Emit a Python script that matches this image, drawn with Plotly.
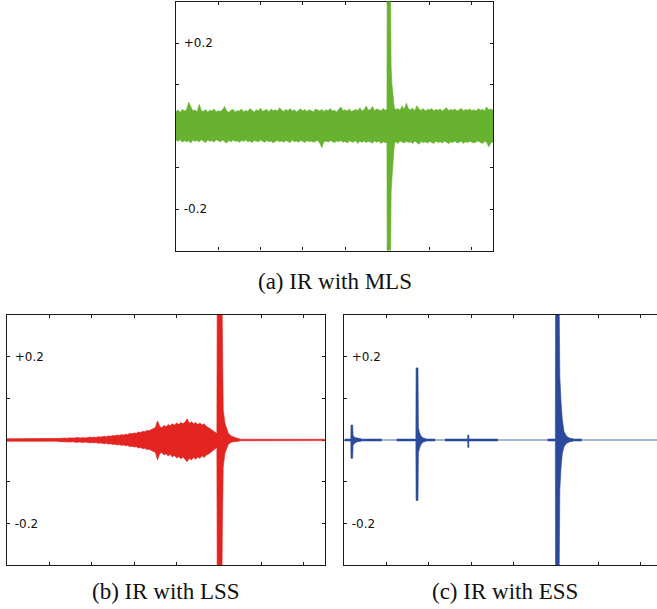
import numpy as np
import plotly.graph_objects as go

# ---------------------------------------------------------------------------
# Impulse responses measured with three excitation signals.
# Each waveform is stored as its upper / lower envelope (in units of 1e-3)
# sampled every 0.05 time units, plus the direct-sound spike and its decay.
# ---------------------------------------------------------------------------
STEP = 0.05
grid = np.round(np.arange(0, 7.5 + STEP / 2, STEP), 3)

# (a) MLS: stationary noise floor plus the direct impulse
mls_upper = [35, 38, 33, 40, 36, 39, 57, 46, 36, 39,
             34, 52, 37, 35, 40, 33, 38, 36, 41, 34,
             37, 35, 39, 47, 36, 33, 38, 40, 34, 37,
             36, 41, 34, 38, 35, 42, 37, 33, 39, 36,
             43, 35, 38, 40, 34, 41, 37, 39, 36, 44,
             38, 35, 40, 37, 42, 36, 39, 34, 38, 41,
             36, 40, 35, 39, 37, 34, 41, 38, 36, 40,
             35, 39, 37, 42, 36, 38, 34, 40, 46, 37,
             39, 36, 41, 35, 38, 40, 37, 44, 36, 39,
             48, 38, 40, 47, 37, 41, 39, 36, 42, 38,
             40, 37, 41, 44, 39, 42, 38, 48, 40, 55,
             41, 39, 43, 37, 49, 40, 38, 42, 36, 40,
             39, 42, 37, 40, 38, 41, 36, 39, 44, 37,
             40, 38, 41, 36, 39, 42, 37, 40, 38, 41,
             37, 39, 36, 42, 38, 40, 37, 46, 39, 41,
             38]
mls_lower = [-34, -37, -33, -39, -35, -38, -36, -41, -34, -37,
             -35, -38, -33, -36, -40, -34, -37, -35, -39, -33,
             -36, -38, -34, -37, -41, -35, -38, -34, -37, -36,
             -39, -35, -37, -34, -38, -36, -40, -35, -37, -38,
             -34, -37, -39, -35, -38, -36, -41, -37, -35, -38,
             -36, -39, -35, -37, -40, -34, -38, -36, -39, -35,
             -37, -40, -35, -38, -36, -39, -37, -35, -41, -52,
             -38, -36, -39, -35, -37, -40, -36, -38, -35, -39,
             -37, -41, -36, -38, -39, -35, -42, -37, -39, -36,
             -40, -37, -38, -41, -36, -39, -37, -42, -38, -40,
             -39, -43, -37, -40, -38, -42, -36, -39, -41, -37,
             -40, -38, -42, -36, -39, -44, -37, -40, -38, -41,
             -37, -39, -42, -36, -40, -38, -41, -37, -39, -43,
             -38, -40, -36, -41, -39, -37, -42, -38, -40, -37,
             -39, -41, -38, -36, -40, -42, -37, -39, -50, -41,
             -38]
mls_spike_t = [4.99, 5.00, 5.065, 5.075, 5.09, 5.11, 5.125, 5.14, 5.16, 5.18]
mls_spike_hi = [0.038, 0.45, 0.45, 0.230, 0.140, 0.100, 0.085, 0.060, 0.048, 0.040]
mls_spike_lo = [-0.038, -0.45, -0.45, -0.220, -0.160, -0.124, -0.095, -0.075, -0.052, -0.040]

# (b) LSS: pre-echo distortion building up before the impulse
lss_upper = [3, 3, 3, 3, 3, 3, 3, 3, 3, 3,
             3, 3, 3, 3, 3, 3, 3, 3, 3, 3,
             3, 3, 3, 3, 3, 4, 4, 5, 4, 5,
             5, 4, 5, 6, 5, 5, 6, 5, 6, 7,
             6, 7, 6, 8, 7, 8, 9, 8, 10, 9,
             11, 10, 12, 11, 13, 12, 14, 13, 16, 15,
             17, 16, 19, 18, 21, 20, 23, 22, 25, 27,
             30, 46, 33, 29, 35, 32, 37, 34, 39, 36,
             41, 37, 42, 39, 43, 51, 40, 44, 39, 42,
             37, 41, 36, 39, 33, 30, 26, 23, 18, 14,
             12, 2, 2, 2, 2, 2, 2, 2, 2, 1.5,
             1.5, 1.5, 1.5, 1.5, 1.5, 1.5, 1.5, 1.5, 1.5, 1.5,
             1.5, 1.5, 1.5, 1.5, 1.5, 1.5, 1.5, 1.5, 1.5, 1.5,
             1.5, 1.5, 1.5, 1.5, 1.5, 1.5, 1.5, 1.5, 1.5, 1.5,
             1.5, 1.5, 1.5, 1.5, 1.5, 1.5, 1.5, 1.5, 1.5, 1.5,
             1.5]
lss_lower = [-3, -3, -3, -3, -3, -3, -3, -3, -3, -3,
             -3, -3, -3, -3, -3, -3, -3, -3, -3, -3,
             -3, -3, -3, -3, -3, -4, -4, -5, -4, -5,
             -5, -4, -5, -6, -5, -5, -6, -5, -6, -7,
             -6, -7, -6, -8, -7, -8, -9, -8, -10, -9,
             -11, -10, -12, -11, -13, -12, -14, -13, -16, -15,
             -17, -16, -19, -18, -21, -20, -23, -22, -26, -27,
             -30, -48, -33, -30, -36, -33, -38, -35, -41, -37,
             -43, -40, -45, -41, -47, -52, -44, -48, -42, -46,
             -41, -44, -38, -42, -36, -34, -30, -27, -23, -18,
             -14, -2, -2, -2, -2, -2, -2, -2, -2, -1.5,
             -1.5, -1.5, -1.5, -1.5, -1.5, -1.5, -1.5, -1.5, -1.5, -1.5,
             -1.5, -1.5, -1.5, -1.5, -1.5, -1.5, -1.5, -1.5, -1.5, -1.5,
             -1.5, -1.5, -1.5, -1.5, -1.5, -1.5, -1.5, -1.5, -1.5, -1.5,
             -1.5, -1.5, -1.5, -1.5, -1.5, -1.5, -1.5, -1.5, -1.5, -1.5,
             -1.5]
lss_spike_t = [4.95, 4.96, 5.06, 5.08, 5.10, 5.14, 5.22, 5.30, 5.45, 5.50]
lss_spike_hi = [0.012, 0.45, 0.45, 0.193, 0.072, 0.040, 0.016, 0.009, 0.004, 0.0015]
lss_spike_lo = [-0.014, -0.45, -0.45, -0.209, -0.064, -0.032, -0.010, -0.005, -0.003, -0.0015]

# (c) ESS: harmonic distortion products separated ahead of the impulse
ess_floor_start = [0.02, 1.24, 2.38, 4.80]
ess_floor_end = [0.89, 2.15, 3.63, 5.61]
ess_h3_t = [0.160, 0.165, 0.205, 0.215, 0.26, 0.32, 0.40]
ess_h3_hi = [0.003, 0.036, 0.036, 0.010, 0.006, 0.004, 0.003]
ess_h3_lo = [-0.003, -0.044, -0.044, -0.012, -0.007, -0.004, -0.003]
ess_h2_t = [1.695, 1.700, 1.745, 1.755, 1.78, 1.82, 1.87, 1.93]
ess_h2_hi = [0.003, 0.173, 0.173, 0.030, 0.018, 0.009, 0.005, 0.003]
ess_h2_lo = [-0.003, -0.145, -0.145, -0.032, -0.020, -0.010, -0.005, -0.003]
ess_h4_t = [2.915, 2.920, 2.945, 2.950]
ess_h4_hi = [0.002, 0.012, 0.012, 0.002]
ess_h4_lo = [-0.002, -0.018, -0.018, -0.002]
ess_main_t = [4.985, 4.99, 5.065, 5.09, 5.12, 5.15, 5.19, 5.25, 5.33, 5.40]
ess_main_hi = [0.003, 0.45, 0.45, 0.153, 0.089, 0.048, 0.020, 0.009, 0.004, 0.003]
ess_main_lo = [-0.003, -0.45, -0.45, -0.120, -0.064, -0.032, -0.016, -0.008, -0.004, -0.003]

panel_titles = ["(a) IR with MLS", "(b) IR with LSS", "(c) IR with ESS"]
y_tick_values = [-0.2, -0.1, 0.0, 0.1, 0.2]
y_tick_text = ["-0.2", "", "", "", "+0.2"]
x_tick_values = [1, 2, 3, 4, 5, 6, 7]

GREEN = "#67b22f"
RED = "#e32420"
BLUE = "#2b4a9e"
BLUE_LIGHT = "#8a9dd0"
W, H = 657, 609


def band(t, hi, lo, color, xa, ya, scale=1.0):
    t = list(t)
    hi = [v * scale for v in hi]
    lo = [v * scale for v in lo]
    return go.Scatter(
        x=t + t[::-1], y=hi + lo[::-1], xaxis=xa, yaxis=ya,
        mode="lines", fill="toself", fillcolor=color,
        line=dict(color=color, width=0.6),
        hoverinfo="skip", showlegend=False,
    )


fig = go.Figure()

# (a)
fig.add_trace(band(grid, mls_upper, mls_lower, GREEN, "x", "y", 1e-3))
fig.add_trace(band(mls_spike_t, mls_spike_hi, mls_spike_lo, GREEN, "x", "y"))

# (b)
fig.add_trace(band(grid, lss_upper, lss_lower, RED, "x2", "y2", 1e-3))
fig.add_trace(band(lss_spike_t, lss_spike_hi, lss_spike_lo, RED, "x2", "y2"))

# (c): light baseline, denser floor segments, then the impulses
fig.add_trace(go.Scatter(x=[0, 7.5], y=[0, 0], xaxis="x3", yaxis="y3", mode="lines",
                         line=dict(color=BLUE_LIGHT, width=1.6),
                         hoverinfo="skip", showlegend=False))
for s, e in zip(ess_floor_start, ess_floor_end):
    fig.add_trace(go.Scatter(x=[s, e], y=[0, 0], xaxis="x3", yaxis="y3", mode="lines",
                             line=dict(color=BLUE, width=2.6),
                             hoverinfo="skip", showlegend=False))
for t, hi, lo in [(ess_h3_t, ess_h3_hi, ess_h3_lo), (ess_h2_t, ess_h2_hi, ess_h2_lo),
                  (ess_h4_t, ess_h4_hi, ess_h4_lo), (ess_main_t, ess_main_hi, ess_main_lo)]:
    fig.add_trace(band(t, hi, lo, BLUE, "x3", "y3"))

AX = "#1a1a1a"
common_x = dict(showgrid=False, zeroline=False, showline=True, linecolor=AX, linewidth=1.2,
                ticks="inside", ticklen=3, tickwidth=1, tickcolor=AX,
                tickvals=x_tick_values, showticklabels=False, layer="below traces")
common_y = dict(showgrid=False, zeroline=False, showline=True, linecolor=AX, linewidth=1.2,
                ticks="inside", ticklen=3, tickwidth=1, tickcolor=AX,
                tickvals=y_tick_values, ticktext=y_tick_text, ticklabelposition="inside",
                ticklabelstandoff=4,
                tickfont=dict(family="DejaVu Sans", size=12, color="#111"),
                range=[-0.3, 0.3], layer="below traces")

dom_a = [176 / W, 493 / W]
dom_b = [7 / W, 325 / W]
dom_c = [344 / W, 1.0]
y_top = [1 - 250.5 / H, 1 - 1.5 / H]
y_bot = [1 - 565 / H, 1 - 315 / H]

fig.update_layout(
    width=W, height=H, margin=dict(l=0, r=0, t=0, b=0),
    paper_bgcolor="white", plot_bgcolor="white",
    xaxis=dict(common_x, domain=dom_a, range=[0, 7.5], mirror="ticks", anchor="y"),
    yaxis=dict(common_y, domain=y_top, mirror="ticks", anchor="x"),
    xaxis2=dict(common_x, domain=dom_b, range=[0, 7.5], mirror="ticks", anchor="y2"),
    yaxis2=dict(common_y, domain=y_bot, mirror="ticks", anchor="x2"),
    xaxis3=dict(common_x, domain=dom_c, range=[0, (W - 344) / 42.4], mirror="ticks", anchor="y3"),
    yaxis3=dict(common_y, domain=y_bot, mirror=False, anchor="x3"),
)

title_pos = [(334.5, 281), (166, 591), (505, 591)]
for text, (cx, cy) in zip(panel_titles, title_pos):
    fig.add_annotation(text=text, x=cx / W, y=1 - cy / H, xref="paper", yref="paper",
                       xanchor="center", yanchor="middle", showarrow=False,
                       font=dict(family="Liberation Serif", size=23, color="#111"))

fig.write_html("out.html")
